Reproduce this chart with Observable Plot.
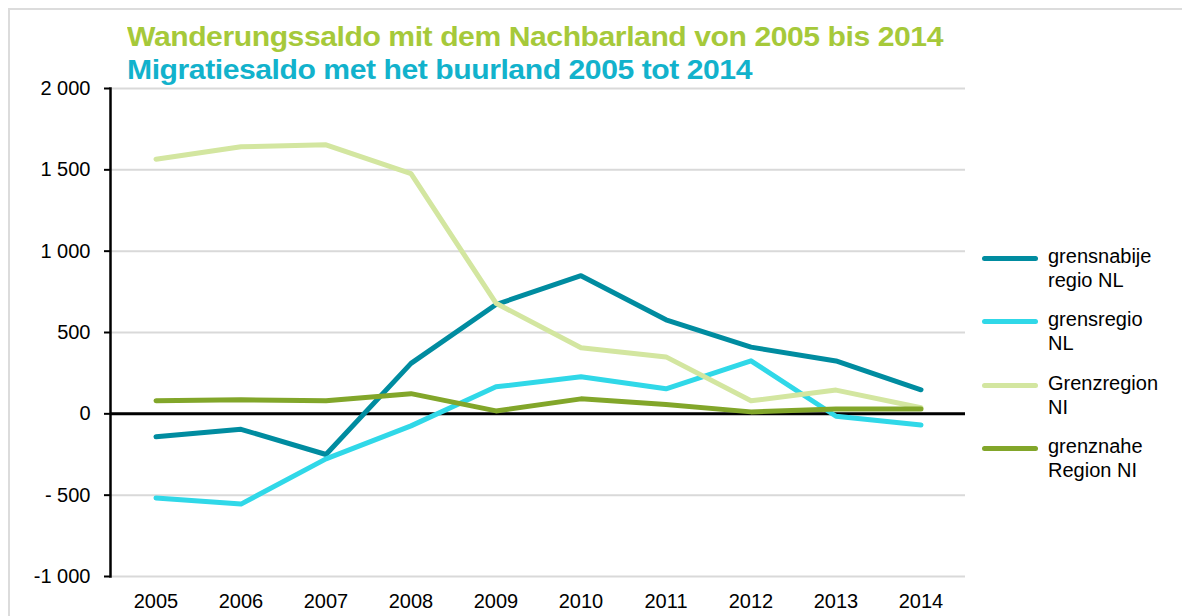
<!DOCTYPE html>
<html>
<head>
<meta charset="utf-8">
<script src="https://cdn.jsdelivr.net/npm/d3@7"></script>
<script src="https://cdn.jsdelivr.net/npm/@observablehq/plot@0.6"></script>
<style>
  html, body { margin: 0; padding: 0; background: #fff; }
  body { width: 1182px; height: 616px; overflow: hidden; position: relative; font-family: "Liberation Sans", Arial, sans-serif; }
  #frame { position: absolute; left: 8px; top: 8px; width: 1300px; height: 700px; border-top: 2px solid #dcdcdc; border-left: 2px solid #dcdcdc; }
  #chart { position: absolute; left: 0; top: 0; }
  .title { position: absolute; left: 127px; font-weight: bold; font-size: 27px; line-height: 32px; white-space: nowrap; transform-origin: 0 0; letter-spacing: -0.4px; }
  #t1 { top: 21px; color: #a6c93a; }
  #t2 { top: 54px; color: #12b2cc; }
  #legend { position: absolute; left: 982px; top: 0; }
  .item { position: absolute; left: 0; width: 200px; }
  .swatch { position: absolute; left: 0; width: 56px; height: 5px; border-radius: 3px; }
  .lab { position: absolute; left: 66px; top: 0; font-size: 20px; line-height: 24px; color: #000; white-space: nowrap; }
</style>
</head>
<body>
<div id="frame"></div>
<div id="chart"></div>
<div class="title" id="t1"></div>
<div class="title" id="t2"></div>
<div id="legend"></div>
<script>
const titleDE = "Wanderungssaldo mit dem Nachbarland von 2005 bis 2014";
const titleNL = "Migratiesaldo met het buurland 2005 tot 2014";
const years = ["2005","2006","2007","2008","2009","2010","2011","2012","2013","2014"];
const seriesNames = ["grensnabije regio NL", "grensregio NL", "Grenzregion NI", "grenznahe Region NI"];
const legendLines = [["grensnabije", "regio NL"], ["grensregio", "NL"], ["Grenzregion", "NI"], ["grenznahe", "Region NI"]];
const seriesColors = ["#008ca0", "#30d8e8", "#d3e6a0", "#82a62a"];
const grensnabijeRegioNL = [-141, -95, -250, 310, 672, 849, 578, 410, 325, 148];
const grensregioNL = [-517, -555, -277, -74, 166, 228, 154, 326, -15, -68];
const grenzregionNI = [1565, 1642, 1654, 1476, 680, 406, 350, 80, 146, 37];
const grenznaheRegionNI = [80, 86, 80, 124, 18, 92, 58, 12, 30, 30];
const yTicks = [-1000, -500, 0, 500, 1000, 1500, 2000];
const yTickLabels = ["-1 000", "- 500", "0", "500", "1 000", "1 500", "2 000"];

function fitText(id, text, target) {
  const el = document.getElementById(id);
  el.textContent = text;
  const w = el.getBoundingClientRect().width;
  el.style.transform = "scaleX(" + (target / w) + ")";
}
fitText("t1", titleDE, 816);
fitText("t2", titleNL, 625);

const valueArrays = [grensnabijeRegioNL, grensregioNL, grenzregionNI, grenznaheRegionNI];
const data = [];
seriesNames.forEach((s, i) => years.forEach((y, j) => data.push({series: s, year: y, value: valueArrays[i][j]})));

const chart = Plot.plot({
  width: 1182,
  height: 616,
  marginLeft: 110,
  marginRight: 217,
  marginTop: 88,
  marginBottom: 40,
  style: {fontFamily: "'Liberation Sans', Arial, sans-serif", fontSize: "20px", color: "#000", background: "transparent"},
  x: {type: "band", domain: years, padding: 0},
  y: {domain: [-1000, 2000]},
  color: {domain: seriesNames, range: seriesColors},
  marks: [
    Plot.gridY(yTicks, {stroke: "#d9d9d9", strokeOpacity: 1, strokeWidth: 2}),
    Plot.axisY({ticks: yTicks, tickFormat: d => yTickLabels[yTicks.indexOf(d)], tickSize: 6, tickPadding: 14, strokeWidth: 2, label: null, fontSize: 20}),
    Plot.axisX({tickSize: 0, tickPadding: 17, label: null, fontSize: 20}),
    Plot.frame({anchor: "left", stroke: "#000", strokeWidth: 2.5}),
    Plot.ruleY([0], {stroke: "#000", strokeWidth: 3}),
    Plot.line(data, {x: "year", y: "value", z: "series", stroke: "series", strokeWidth: 5, strokeLinecap: "round", strokeLinejoin: "round"})
  ]
});
document.getElementById("chart").appendChild(chart);

const legend = document.getElementById("legend");
const itemTops = [258, 321, 385, 448];
legendLines.forEach((lines, i) => {
  const it = document.createElement("div");
  it.className = "item";
  it.style.top = (itemTops[i]) + "px";
  const sw = document.createElement("div");
  sw.className = "swatch";
  sw.style.background = seriesColors[i];
  sw.style.top = "-2.5px";
  const lab = document.createElement("div");
  lab.className = "lab";
  lab.style.top = "-14px";
  lab.innerHTML = lines.join("<br>");
  it.appendChild(sw); it.appendChild(lab);
  legend.appendChild(it);
});
</script>
</body>
</html>
